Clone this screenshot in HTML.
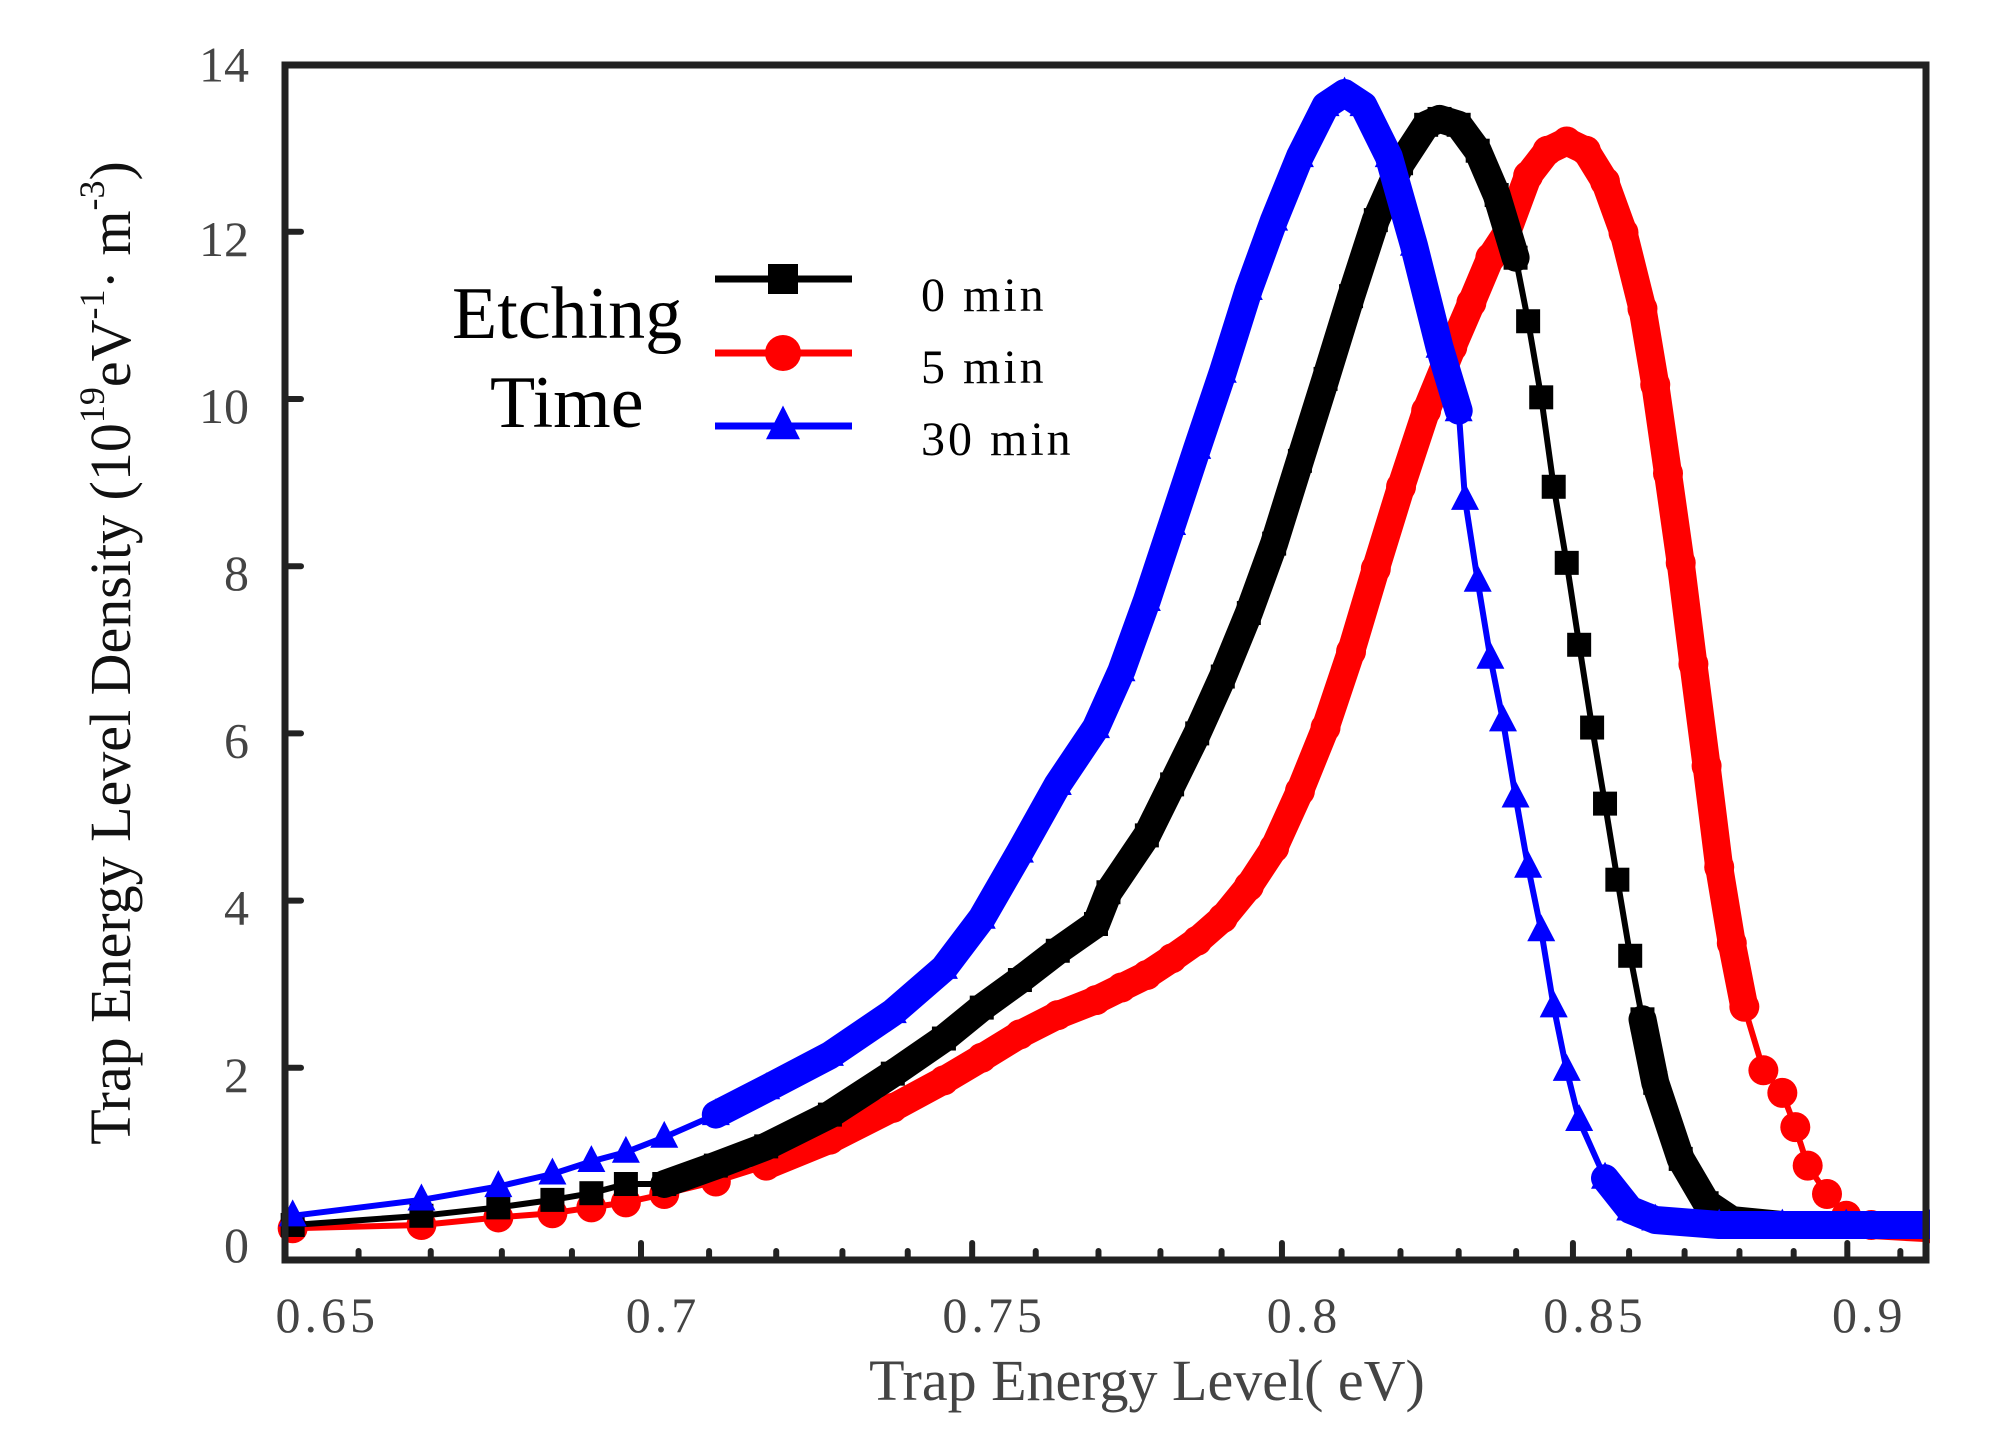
<!DOCTYPE html>
<html><head><meta charset="utf-8"><style>
html,body{margin:0;padding:0;background:#fff;}
svg{display:block;}
text{font-family:"Liberation Serif",serif;}
</style></head><body>
<svg id="chart" width="1998" height="1455" viewBox="0 0 1998 1455" xmlns="http://www.w3.org/2000/svg">
<g id="plot"></g>
<g id="axes"></g>
<text x="1147" y="1400" font-size="58" fill="#444" text-anchor="middle">Trap Energy  Level( eV)</text>
<text transform="translate(130,653) rotate(-90)" font-size="58" fill="#111" text-anchor="middle">Trap Energy  Level Density (10<tspan font-size="36" dy="-26">19</tspan><tspan dy="26">eV</tspan><tspan font-size="36" dy="-26">-1</tspan><tspan dy="26">· m</tspan><tspan font-size="36" dy="-26">-3</tspan><tspan dy="26">)</tspan></text>
<g id="legend">
<text x="452" y="338" font-size="74" fill="#000">Etching</text>
<text x="490" y="427" font-size="74" fill="#000">Time</text>
</g>
</svg>
<script>
const xTicks=[0.65,0.7,0.75,0.8,0.85,0.9];
const xTickLabels=["0.65","0.7","0.75","0.8","0.85","0.9"];
const yTicks=[0,2,4,6,8,10,12,14];
const seriesNames=["0 min","5 min","30 min"];
const x0min=[0.651,0.6687,0.6795,0.6872,0.6928,0.6978,0.7034,0.711,0.7185,0.7281,0.7377,0.7456,0.7515,0.7575,0.7635,0.7696,0.7716,0.7778,0.7819,0.7860,0.7902,0.7945,0.7987,0.8030,0.8073,0.8116,0.8158,0.8201,0.8244,0.8267,0.8300,0.8333,0.8366,0.8399,0.8421,0.8444,0.8466,0.8489,0.8511,0.8534,0.8557,0.8579,0.8602,0.8624,0.8647,0.8693,0.8740,0.8786,0.8879,0.9155];
const y0min=[0.12,0.23,0.33,0.42,0.50,0.61,0.61,0.83,1.06,1.44,1.93,2.35,2.72,3.05,3.40,3.72,4.10,4.78,5.39,6.00,6.68,7.44,8.27,9.26,10.24,11.23,12.14,12.82,13.28,13.35,13.28,12.97,12.44,11.69,10.93,10.02,8.95,8.04,7.06,6.07,5.16,4.25,3.34,2.58,1.82,0.91,0.38,0.18,0.12,0.12];
const x5min=[0.651,0.6687,0.6795,0.6872,0.6928,0.6978,0.7034,0.711,0.7185,0.7281,0.7377,0.7456,0.7515,0.7575,0.7635,0.7696,0.7737,0.7778,0.7819,0.7860,0.7902,0.7945,0.7987,0.8030,0.8073,0.8116,0.8158,0.8201,0.8244,0.8289,0.8322,0.8355,0.8384,0.8421,0.8455,0.8489,0.8523,0.8557,0.8590,0.8624,0.8647,0.8670,0.8693,0.8716,0.8740,0.8763,0.8786,0.8809,0.8844,0.8879,0.8903,0.8926,0.8962,0.8998,0.9045,0.9155];
const y5min=[0.08,0.12,0.21,0.26,0.33,0.39,0.49,0.64,0.83,1.14,1.52,1.85,2.12,2.40,2.63,2.81,2.96,3.11,3.31,3.52,3.79,4.17,4.63,5.31,6.07,6.98,7.97,8.95,9.86,10.62,11.15,11.69,11.99,12.67,12.97,13.08,12.97,12.60,11.99,11.08,10.17,9.11,8.04,6.83,5.61,4.40,3.49,2.73,1.97,1.70,1.29,0.83,0.49,0.23,0.12,0.08];
const x30min=[0.651,0.6687,0.6795,0.6872,0.6928,0.6978,0.7034,0.711,0.7185,0.7281,0.7377,0.7456,0.7515,0.7575,0.7635,0.7696,0.7737,0.7778,0.7819,0.7860,0.7902,0.7945,0.7987,0.8030,0.8073,0.8105,0.8137,0.8180,0.8223,0.8267,0.8300,0.8311,0.8333,0.8355,0.8377,0.8399,0.8421,0.8444,0.8466,0.8489,0.8511,0.8557,0.8602,0.8647,0.8763,0.8879,0.8998,0.9155];
const y30min=[0.23,0.42,0.58,0.73,0.88,0.99,1.17,1.44,1.75,2.15,2.66,3.19,3.79,4.58,5.39,6.07,6.75,7.59,8.50,9.41,10.32,11.31,12.14,12.90,13.51,13.66,13.51,12.90,11.84,10.62,9.86,8.80,7.82,6.90,6.15,5.24,4.40,3.64,2.73,1.97,1.37,0.68,0.30,0.18,0.12,0.12,0.12,0.12];

const NS="http://www.w3.org/2000/svg";
const L=285,R=1926,T=65,B=1260;
function xs(v){return 641+4800*Math.log(v/0.7);}
function ys(v){return 1235-v*83.6;}
function mk(tag,attrs,parent){const e=document.createElementNS(NS,tag);for(const k in attrs)e.setAttribute(k,attrs[k]);parent.appendChild(e);return e;}
const plot=document.getElementById('plot'),axes=document.getElementById('axes'),legend=document.getElementById('legend');
const series=[
 {xs:x5min,ys:y5min,color:"#ff0000",shape:"circle",bands:[[0.715,0.884],[0.90,0.92]],name:"series-5min"},
 {xs:x0min,ys:y0min,color:"#000000",shape:"square",bands:[[0.70,0.84],[0.862,0.92]],name:"series-0min"},
 {xs:x30min,ys:y30min,color:"#0000ff",shape:"triangle",bands:[[0.71,0.83],[0.855,0.92]],name:"series-30min"}
];
function marker(shape,cx,cy,color,parent,size){
 let e;
 if(shape==="square"){e=mk('rect',{x:cx-size/2,y:cy-size/2,width:size,height:size,fill:color},parent);}
 else if(shape==="circle"){e=mk('circle',{cx:cx,cy:cy,r:size/2+3,fill:color},parent);}
 else{const h=size*1.1;e=mk('polygon',{points:`${cx},${cy-h*0.62} ${cx-size/2-2},${cy+h*0.4} ${cx+size/2+2},${cy+h*0.4}`,fill:color},parent);}
 return e;
}
series.forEach(s=>{
 const g=mk('g',{},plot);
 
 
 const pts=s.xs.map((x,i)=>`${xs(x).toFixed(1)},${ys(s.ys[i]).toFixed(1)}`).join(' ');
 const line=mk('polyline',{points:pts,fill:'none',stroke:s.color,'stroke-width':6,'stroke-linejoin':'round'},g);
 
 
 s.bands.forEach(bd=>{
  const bp=s.xs.map((x,i)=>[x,s.ys[i]]).filter(p=>p[0]>=bd[0]&&p[0]<=bd[1]).map(p=>`${xs(p[0]).toFixed(1)},${ys(p[1]).toFixed(1)}`).join(' ');
  if(!bp)return;
  const band=mk('polyline',{points:bp,fill:'none',stroke:s.color,'stroke-width':28,'stroke-linejoin':'round','stroke-linecap':'round'},g);
  
  
 });
 s.xs.forEach((x,i)=>{
  const m=marker(s.shape,xs(x),ys(s.ys[i]),s.color,g,24);
  
  
 });
});
mk('rect',{x:R+4,y:0,width:80,height:1455,fill:'#fff'},plot);
const frame=mk('rect',{x:L,y:T,width:R-L,height:B-T,fill:'none',stroke:'#222','stroke-width':7},axes);


for(let k=66;k<=91;k++){
 const v=k/100;const isMaj=(k%5===0);const px=xs(v);
 const t=mk('line',{x1:px,x2:px,y1:B,y2:B-(isMaj?17:9),stroke:'#222','stroke-width':6,'stroke-linecap':'round'},axes);
 
 
}
xTicks.forEach((v,i)=>{
 const t=mk('text',{x:xs(v)+(i===0?42:22),y:1332,'font-size':50,fill:'#444','text-anchor':'middle','letter-spacing':'4'},axes);
 t.textContent=xTickLabels[i];
 
 
});
yTicks.forEach(v=>{
 const py=ys(v);
 if(v>0&&v<14){const t=mk('line',{x1:L,x2:L+16,y1:py,y2:py,stroke:'#222','stroke-width':6,'stroke-linecap':'round'},axes);
 
 }
 const lb=mk('text',{x:249,y:py+(v===0?27:(v===14?17:24)),'font-size':50,fill:'#444','text-anchor':'end'},axes);
 lb.textContent=String(v);
 
 
});
const legY=[279,353,426],legLab=[311,383,455];
const legOrder=[{c:"#000",s:"square"},{c:"#ff0000",s:"circle"},{c:"#0000ff",s:"triangle"}];
legOrder.forEach((o,i)=>{
 const g=mk('g',{},legend);
 
 
 mk('line',{x1:715,x2:852,y1:legY[i],y2:legY[i],stroke:o.c,'stroke-width':7},g);
 marker(o.s,783,legY[i],o.c,g,30);
 const t=mk('text',{x:921,y:legLab[i],'font-size':48,fill:'#000','letter-spacing':'3'},g);
 t.textContent=seriesNames[i];
});
</script>
</body></html>
